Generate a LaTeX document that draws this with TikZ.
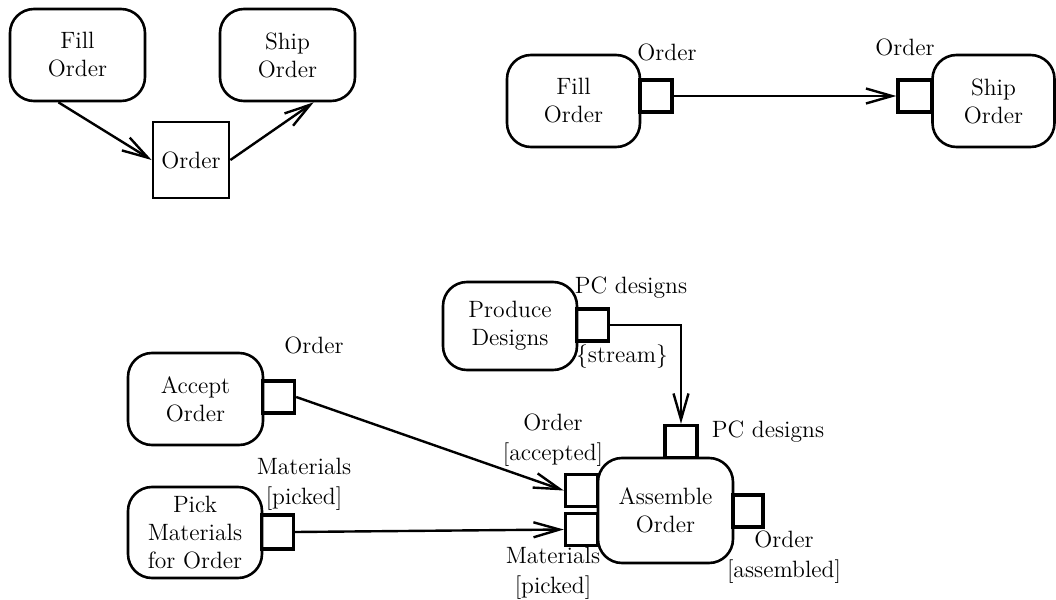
\documentclass[tikz,border=0pt]{standalone}
\usepackage{fontspec}
\usetikzlibrary{arrows.meta}

\begin{document}
\begin{tikzpicture}[x=0.5pt,y=-0.5pt]
  \tikzset{activity/.style={draw=black,line width=1.3pt,rounded corners=12pt,align=center,inner sep=0pt,minimum width=67.5pt,minimum height=46pt,font=\fontsize{11.8}{14}\selectfont}}
  \tikzset{objpin/.style={draw=black,line width=1.7pt,inner sep=0pt,minimum width=16pt,minimum height=16pt}}
  \tikzset{objbox/.style={draw=black,line width=1.4pt,inner sep=0pt,minimum size=38pt,font=\fontsize{11.8}{14}\selectfont}}
  \tikzset{pinlabel/.style={align=center,inner sep=0pt,font=\fontsize{11.8}{14.8}\selectfont}}
  \tikzset{flowedge/.style={draw=black,line width=1.2pt,-{Straight Barb[length=13pt,width=7.5pt]}}}

  \useasboundingbox (0,0) rectangle (1056,600);

  % object node between two actions
  \node[activity] (fillA) at (77.5, 55) {Fill\\Order};
  \node[activity] (shipA) at (287.5, 55) {Ship\\Order};
  \node[objbox] (orderObj) at (191, 160) {Order};

  \draw[flowedge] (fillA.248) -- (orderObj.west);
  \draw[flowedge] (orderObj.east) -- (shipA.299);

  % the same flow with pins
  \node[activity,minimum width=66.5pt] (fillB) at (573.5, 101) {Fill\\Order};
  \node[activity,minimum width=61pt] (shipB) at (993.5, 101) {Ship\\Order};
  \node[objpin] (pinFillOut) at (656, 96) {};
  \node[objpin,minimum width=17pt] (pinShipIn) at (915, 96) {};
  \node[pinlabel] (lblFillOut) at (667, 52) {Order};
  \node[pinlabel] (lblShipIn) at (905, 47) {Order};

  \draw[flowedge] (pinFillOut.east) -- (pinShipIn.west);

  % assembling an order
  \node[activity,minimum width=67pt,minimum height=44pt] (produce) at (510, 326) {Produce\\Designs};
  \node[activity,minimum height=52.5pt] (assemble) at (665.5, 510.5) {Assemble\\Order};
  \node[activity] (accept) at (195.5, 399) {Accept\\Order};
  \node[activity,minimum width=67pt,minimum height=45.5pt] (pick) at (195, 532.5) {Pick\\Materials\\for Order};

  \node[objpin] (pinProduce) at (592.5, 325) {};
  \node[objpin] (pinAsmTop) at (681, 441.5) {};
  \node[objpin] (pinAsmIn1) at (581.5, 490.5) {};
  \node[objpin] (pinAsmIn2) at (581.5, 529.5) {};
  \node[objpin,minimum width=15pt] (pinAsmOut) at (748, 511) {};
  \node[objpin] (pinAccept) at (278.5, 397) {};
  \node[objpin,minimum height=17pt] (pinPick) at (277.5, 532) {};

  \node[pinlabel] (lblProduceTop) at (631, 288) {PC designs};
  \node[pinlabel] (lblStream) at (622, 357) {\{stream\}};
  \node[pinlabel] (lblAsmTop) at (768, 432) {PC designs};
  \node[pinlabel] (lblAsmIn1) at (553, 440) {Order\\{}[accepted]};
  \node[pinlabel] (lblAsmIn2) at (553, 573) {Materials\\{}[picked]};
  \node[pinlabel] (lblAsmOut) at (784, 557) {Order\\{}[assembled]};
  \node[pinlabel] (lblAccept) at (314, 345) {Order};
  \node[pinlabel] (lblPick) at (304, 484) {Materials\\{}[picked]};

  \draw[flowedge] (pinProduce.east) -| (pinAsmTop.north);
  \draw[flowedge] (pinAccept.east) -- (pinAsmIn1.west);
  \draw[flowedge] (pinPick.east) -- (pinAsmIn2.west);
\end{tikzpicture}
\end{document}
